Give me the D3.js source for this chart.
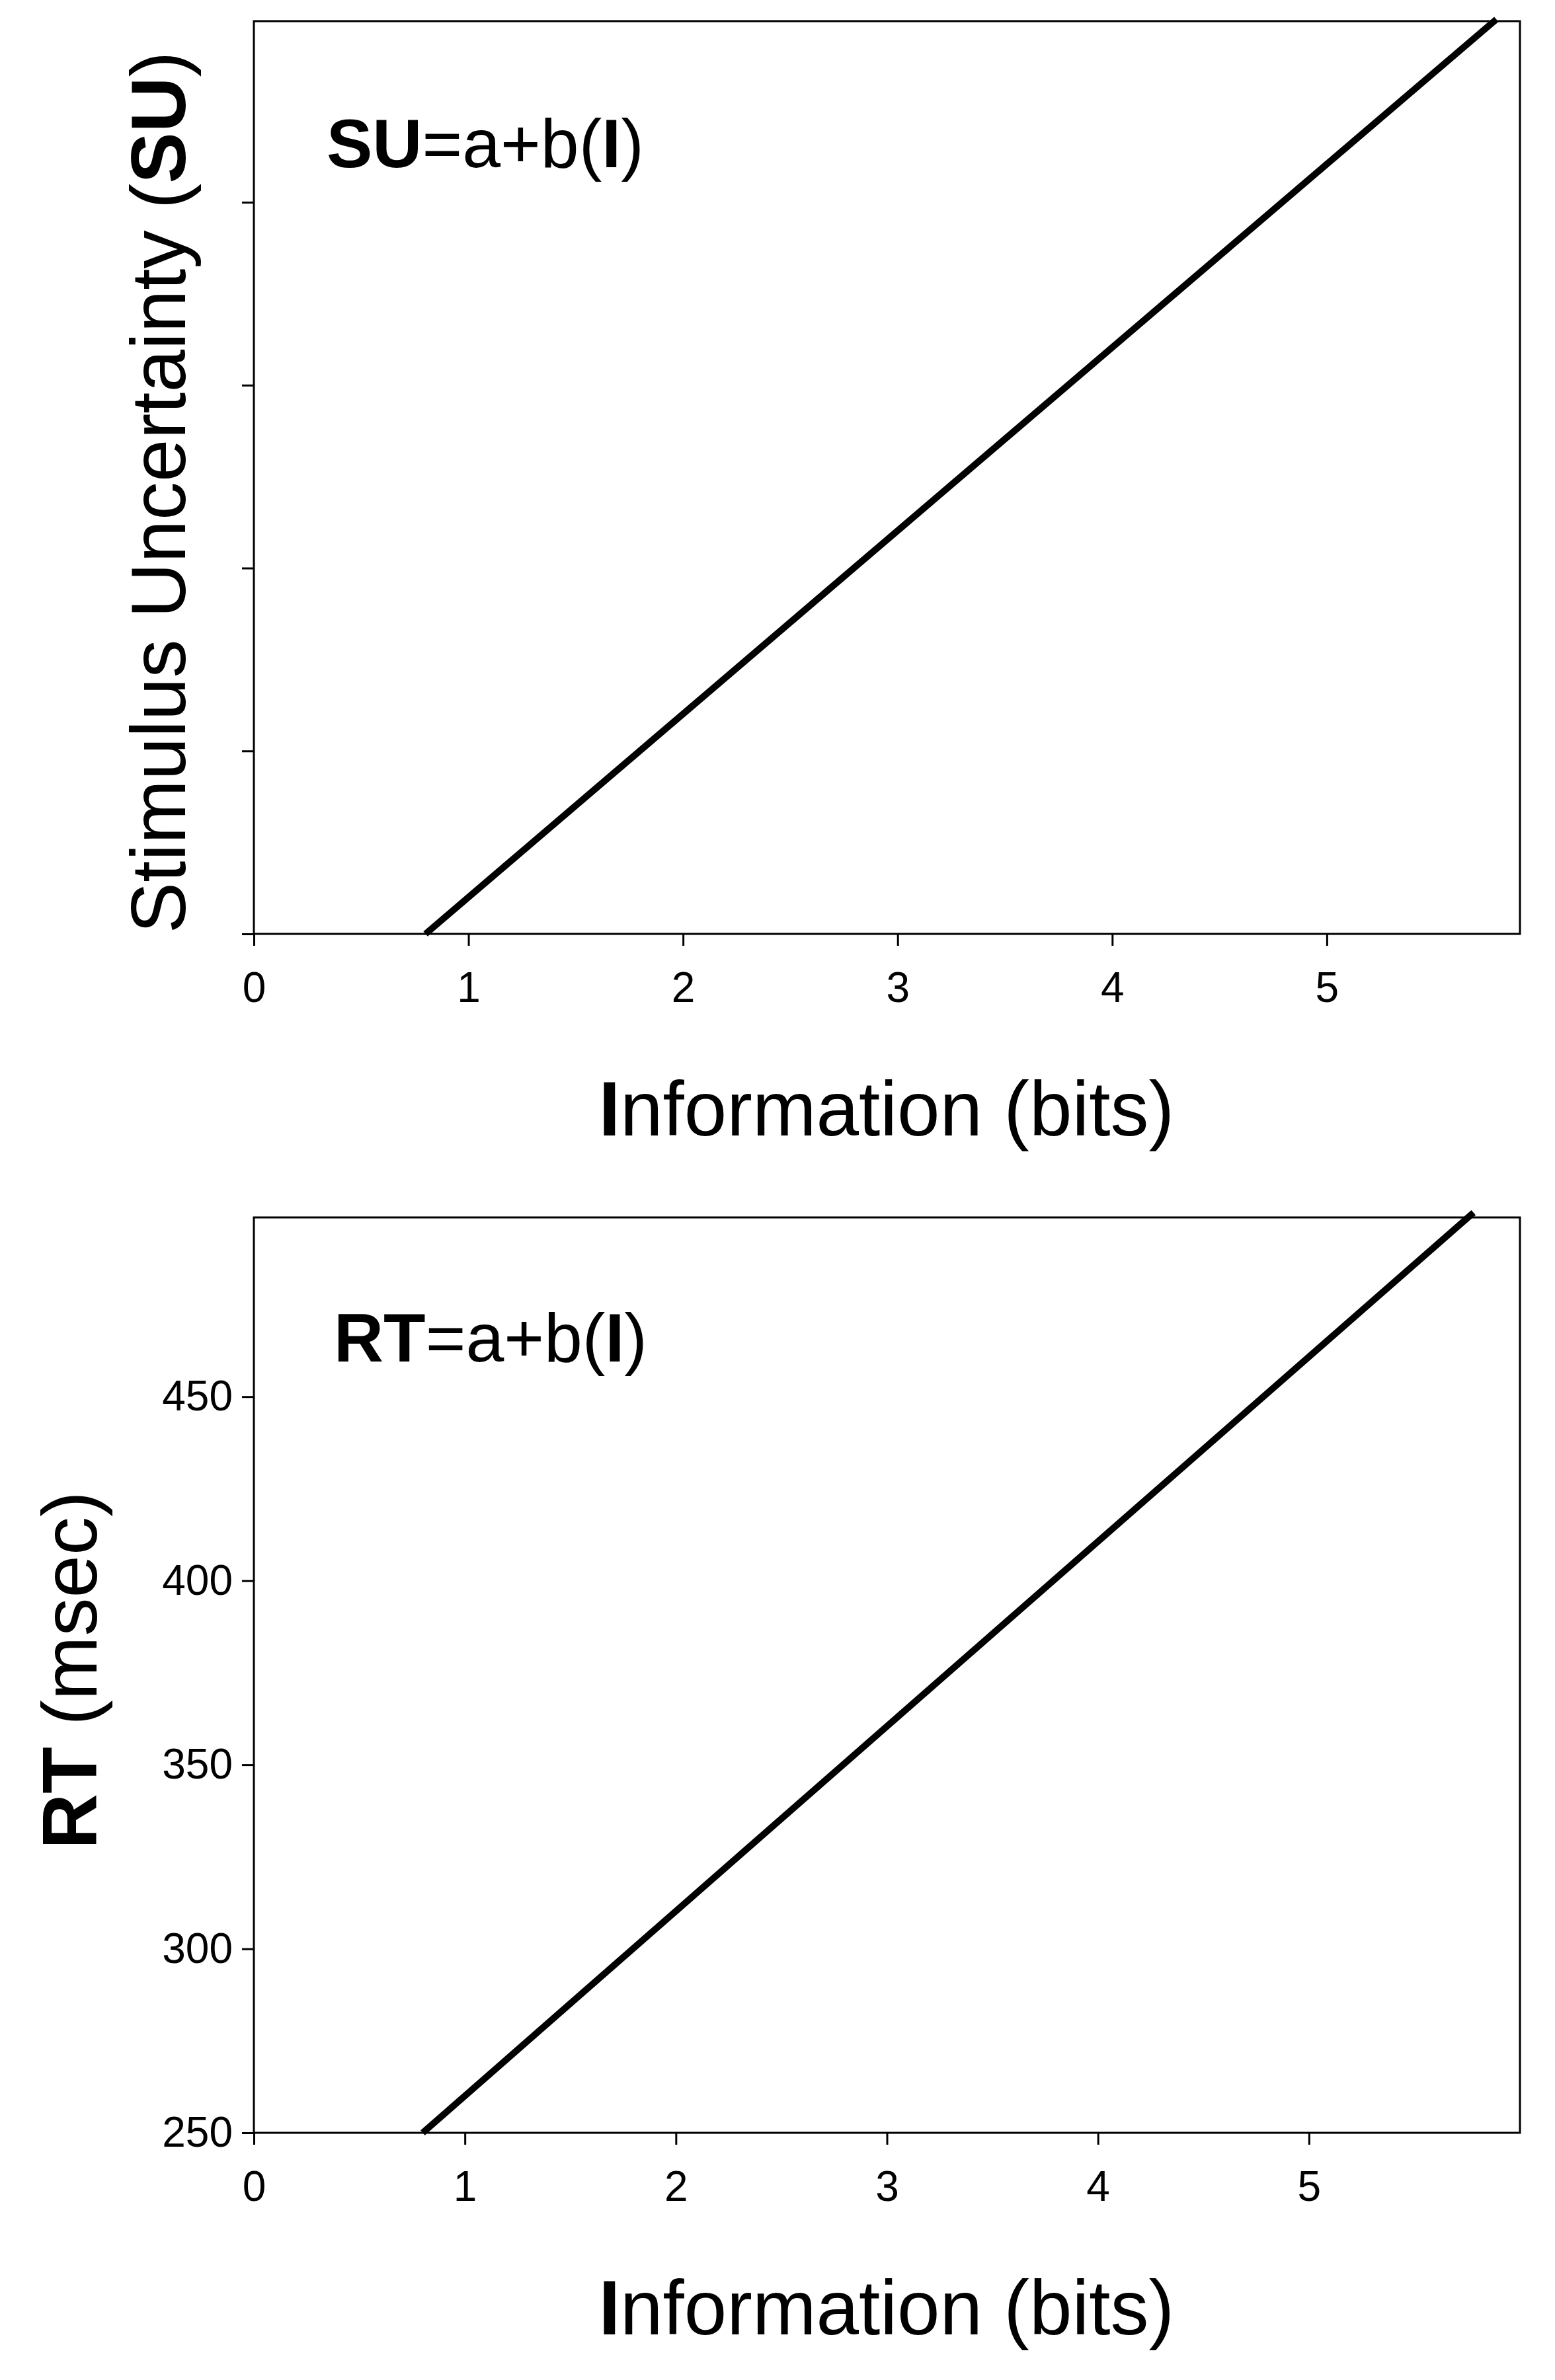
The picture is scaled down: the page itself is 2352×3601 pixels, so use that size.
<!DOCTYPE html><html><head><meta charset="utf-8"><script src="https://cdn.jsdelivr.net/npm/d3@7"></script>
<style>body{margin:0;background:#fff}text{font-family:"Liberation Sans",Arial,sans-serif;fill:#000}</style></head><body>
<script>
const xTicks=[0,1,2,3,4,5];
const suTicks=[0,1,2,3,4];
const rtTicks=[250,300,350,400,450];
const suLine=[[0.8,0],[5.79,5]];
const rtLine=[[0.8,250],[5.78,500]];
const W=2352,H=3601;
const svg=d3.select("body").append("svg").attr("width",W).attr("height",H);
function panel(top,bottom,xmax,ydom,yTicks,labels,line,eq,ylab,yt){
  const x=d3.scaleLinear().domain([0,xmax]).range([384,2299]);
  const y=d3.scaleLinear().domain(ydom).range([bottom,top]);
  const g=svg.append("g");
  g.append("rect").attr("x",384).attr("y",top).attr("width",2299-384).attr("height",bottom-top).attr("fill","none").attr("stroke","#000").attr("stroke-width",3);
  const ax=g.append("g").attr("transform",`translate(0,${bottom})`).call(d3.axisBottom(x).tickValues(xTicks).tickSize(18).tickFormat(d3.format("d")).tickPadding(40));
  const ay=g.append("g").attr("transform",`translate(384,0)`).call(d3.axisLeft(y).tickValues(yTicks).tickSize(18).tickPadding(14).tickFormat(labels?d3.format("d"):""));
  [ax,ay].forEach(a=>{a.select(".domain").remove();a.attr("font-size",64).attr("font-family","'Liberation Sans Narrow','Liberation Sans',sans-serif");a.selectAll("line").attr("stroke","#000").attr("stroke-width",3);a.selectAll("text").style("font-size","64px").style("font-family","'Liberation Sans Narrow','Liberation Sans',sans-serif").attr("fill","#000");});
  g.append("path").attr("d",d3.line().x(d=>x(d[0])).y(d=>y(d[1]))(line)).attr("stroke","#000").attr("stroke-width",10).attr("fill","none");
  const e=g.append("text").attr("x",eq[0]).attr("y",eq[1]).attr("font-size",104);
  e.append("tspan").attr("font-weight","bold").text(eq[2]);
  e.append("tspan").text("=a+b(");e.append("tspan").attr("font-weight","bold").text("I");e.append("tspan").text(")");
  const xl=g.append("text").attr("x",1341).attr("y",bottom+305).attr("text-anchor","middle").attr("font-size",116);
  xl.append("tspan").attr("font-weight","bold").text("I");xl.append("tspan").text("nformation (bits)");
  const yl=g.append("text").attr("transform",`translate(${yt[0]},${yt[1]}) rotate(-90)`).attr("text-anchor","middle").attr("font-size",yt[2]);
  ylab.forEach(s=>yl.append("tspan").attr("font-weight",s[1]?"bold":"normal").text(s[0]));
}
panel(32,1413,5.9,[0,4.99],suTicks,false,suLine,[494,253,"SU"],[["Stimulus Uncertainty ("],["SU",1],[")"]],[280,745,116]);
panel(1842,3227,6,[250,498.7],rtTicks,true,rtLine,[505,2060,"RT"],[["RT",1],[" (msec)"]],[146,2527,116]);
</script></body></html>
